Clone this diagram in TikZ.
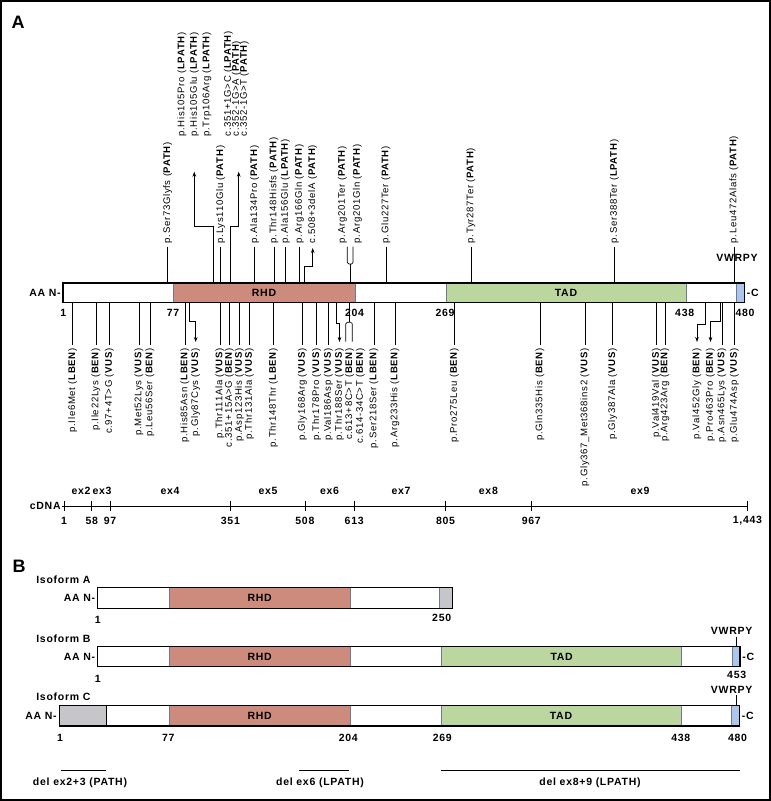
\documentclass[tikz,border=0pt]{standalone}
\usepackage{fontspec}
\setmainfont{Liberation Sans}
\newfontfamily\labfont[LetterSpace=7]{Liberation Sans}
\usetikzlibrary{arrows.meta}
\definecolor{rhdcol}{RGB}{205,139,126}
\definecolor{tadcol}{RGB}{188,214,160}
\definecolor{vwcol}{RGB}{172,198,236}
\definecolor{isogray}{RGB}{198,198,202}
\definecolor{edgecol}{RGB}{112,120,140}
\newcommand\vPath{(\textbf{PATH})}
\newcommand\vLPath{(\textbf{LPATH})}
\newcommand\vVus{(\textbf{VUS})}
\newcommand\vBen{(\textbf{BEN})}
\newcommand\vLBen{(\textbf{LBEN})}
\tikzset{
  lab/.style={font=\labfont\fontsize{9.6}{10}\selectfont,inner sep=0pt,inner xsep=3pt},
  uplab/.style={lab,rotate=90,anchor=west},
  downlab/.style={lab,rotate=90,anchor=east},
  num/.style={font=\labfont\bfseries\fontsize{10.5}{12}\selectfont,inner sep=1pt},
  panel/.style={font=\bfseries\fontsize{18}{20}\selectfont,inner sep=0pt},
  seg/.style={draw=edgecol,line width=0.6pt},
}
\begin{document}
\begin{tikzpicture}[>={Stealth[length=5pt,width=3.6pt]},x=1pt,y=-1pt,line width=0.7pt]
\useasboundingbox (0,0) rectangle (771,801);
\draw[line width=2pt] (1,1) rectangle (770,800);
\coordinate (atop) at (0,283);
\coordinate (abot) at (0,302.5);
%%%% panel A
\node[panel] (pA) at (18,22) {A};
\draw[seg,fill=rhdcol] (173,283) rectangle (355,302.5);
\draw[seg,fill=tadcol] (446,283) rectangle (686,302.5);
\draw[seg,fill=vwcol] (736,283) rectangle (744.5,302.5);
\draw[line width=1.1pt] (63,283) rectangle (744.5,302.5);
\node[num] (rhdA) at (264,292.7) {RHD};
\node[num] (tadA) at (566,292.7) {TAD};
\node[num,anchor=east] (nA) at (62,292.7) {AA N-};
\node[num,anchor=west] (cA) at (745.5,292.7) {-C};
\node[num] (vwA) at (737,258) {VWRPY};
\foreach \x/\n [count=\i] in {63.3/1,173/77,354.5/204,445/269,684.7/438,745/480}
  \node[num] (aa\i) at (\x,313) {\n};
% variants above the bar
\foreach \x/\txt [count=\i] in {167.7/{p.Ser73Glyfs \vPath},220.7/{p.Lys110Glu \vPath},
    254.7/{p.Ala134Pro \vPath},274/{p.Thr148Hisfs \vPath},285.3/{p.Ala156Glu \vLPath},
    299.3/{p.Arg166Gln \vPath},386/{p.Glu227Ter \vPath},471/{p.Tyr287Ter \vPath},
    614.3/{p.Ser388Ter \vLPath},734/{p.Leu472Alafs \vPath}}{
  \node[uplab] (u\i) at (\x,246.5) {\txt};
  \draw (u\i.west) -- (u\i.west |- atop);
}
\node[uplab] (h1) at (182,139.7) {p.His105Pro \vLPath};
\node[uplab] (h2) at (194.5,139.7) {p.His105Glu \vLPath};
\node[uplab] (h3) at (207,139.7) {p.Trp106Arg \vLPath};
\coordinate (harr) at (194.3,171.7);
\draw[->] (213.3,283) |- (194.3,226.7) -- (harr);
\node[uplab] (s1) at (228.5,139.7) {c.351+1G>C \vLPath};
\node[uplab] (s2) at (236.5,139.7) {c.352-1G>A \vPath};
\node[uplab] (s3) at (244.5,139.7) {c.352-1G>T \vPath};
\coordinate (sarr) at (238.7,171.7);
\draw[->] (230.7,283) |- (238.7,226.7) -- (sarr);
\node[uplab] (c508) at (312.7,246.5) {c.508+3delA \vPath};
\draw[->,shorten >=1.5pt] (304,283) |- (312.7,266) -- (c508.west);
\node[uplab] (r1) at (342.5,246.5) {p.Arg201Ter \vPath};
\node[uplab] (r2) at (357.5,246.5) {p.Arg201Gln \vPath};
\draw (350,283) -- (350,264);
\draw[rounded corners=1.5pt] (347.3,246.7) |- (353,264) -- (353,246.7);
% variants below the bar
\foreach \x/\txt [count=\i] in {72.7/{p.Ile6Met \vLBen},96/{p.Ile22Lys \vBen},
    109.3/{c.97+4T>G \vVus},139/{p.Met52Lys \vVus},150/{p.Leu56Ser \vBen},
    185/{p.His85Asn \vLBen},220/{p.Thr111Ala \vVus},229.3/{c.351+15A>G \vBen},
    239.3/{p.Asp123His \vVus},249.3/{p.Thr131Ala \vVus},273.3/{p.Thr148Thr \vLBen},
    302.3/{p.Gly168Arg \vVus},316.7/{p.Thr178Pro \vVus},328.3/{p.Val186Asp \vVus},
    374/{p.Ser218Ser \vLBen},395/{p.Arg233His \vLBen},454.3/{p.Pro275Leu \vBen},
    540/{p.Gln335His \vBen},585/{p.Gly367\_Met368ins2 \vVus},612.7/{p.Gly387Ala \vVus},
    656.5/{p.Val419Val \vVus},665/{p.Arg423Arg \vBen},722/{p.Asn465Lys \vVus},
    734.5/{p.Glu474Asp \vVus}}{
  \node[downlab] (d\i) at (\x,345) {\txt};
  \draw (d\i.east) -- (d\i.east |- abot);
}
\node[downlab] (g87) at (195.7,345) {p.Gly87Cys \vVus};
\draw[->,shorten >=3pt] (189,302.5) |- (195.7,321.7) -- (g87.east);
\node[downlab] (t188) at (339.5,345) {p.Thr188Ser \vVus};
\draw[->,shorten >=3pt] (336,302.5) |- (339.5,323.3) -- (t188.east);
\node[downlab] (c613) at (349.7,345) {c.613+8C>T \vBen};
\node[downlab] (c614) at (360.5,345) {c.614-34C>T \vBen};
\draw (349,302.5) -- (349,322.3);
\draw[rounded corners=1.5pt] (345.7,341.7) |- (352.3,322.3) -- (352.3,341.7);
\node[downlab] (v452) at (697,345) {p.Val452Gly \vBen};
\draw[->,shorten >=3pt] (705.7,302.5) |- (697,324) -- (v452.east);
\node[downlab] (p463) at (710.5,345) {p.Pro463Pro \vBen};
\draw[->,shorten >=3pt] (720,302.5) |- (710.5,321.7) -- (p463.east);
% cDNA scale
\node[num,anchor=east] (cdna) at (62,506) {cDNA};
\draw (cdna.east) -- (747.4,506);
\foreach \x/\n [count=\i] in {64/1,91.8/58,110/97,230.4/351,304.9/508,354.2/613,
    445.5/805,531.3/967,747.4/{1,443}}{
  \draw (\x,501) -- (\x,511);
  \node[num] (cn\i) at (\x,521) {\n};
}
\foreach \x/\e in {81/2,102/3,170/4,268/5,329.6/6,401/7,488.4/8,640/9}
  \node[num] (ex\e) at (\x,491) {ex\e};
%%%% panel B
\node[panel] (pB) at (19,566) {B};
% isoform A
\node[num,anchor=west] (isoA) at (35,580) {Isoform A};
\draw[seg,fill=rhdcol] (169.3,587.3) rectangle (350,608.3);
\draw[seg,fill=isogray] (439.3,587.3) rectangle (452.7,608.3);
\draw[line width=1.1pt] (97.7,587.3) rectangle (452.7,608.3);
\node[num] (rhdB1) at (259.7,597.8) {RHD};
\node[num,anchor=east] (nB1) at (96.5,597.8) {AA N-};
\node[num] (b1a) at (97.7,620) {1};
\node[num] (b1b) at (441.7,618.3) {250};
% isoform B
\node[num,anchor=west] (isoB) at (35,638.3) {Isoform B};
\draw[seg,fill=rhdcol] (169.3,646.7) rectangle (350,666.7);
\draw[seg,fill=tadcol] (441.7,646.7) rectangle (681.7,666.7);
\draw[seg,fill=vwcol] (732.3,646.7) rectangle (740,666.7);
\draw[line width=1.1pt] (97.7,646.7) rectangle (740,666.7);
\node[num] (rhdB2) at (259.7,656.7) {RHD};
\node[num] (tadB2) at (561.7,656.7) {TAD};
\node[num,anchor=east] (nB2) at (96.5,656.7) {AA N-};
\node[num,anchor=west] (cB2) at (741,656.7) {-C};
\node[num] (vwB2) at (731.7,631.2) {VWRPY};
\draw[line width=0.5pt] (736,636.5) -- (736,646.7);
\node[num] (b2a) at (97.7,679) {1};
\node[num] (b2b) at (736.7,675) {453};
% isoform C
\node[num,anchor=west] (isoC) at (35,696.7) {Isoform C};
\draw[seg,fill=isogray] (59.3,705.7) rectangle (106,726);
\draw (106,705.7) -- (106,726);
\draw[seg,fill=rhdcol] (169.3,705.7) rectangle (350,726);
\draw[seg,fill=tadcol] (441,705.7) rectangle (681,726);
\draw[seg,fill=vwcol] (731.7,705.7) rectangle (739.5,726);
\draw[line width=1.1pt] (59.3,705.7) rectangle (739.5,726);
\node[num] (rhdB3) at (259.7,715.8) {RHD};
\node[num] (tadB3) at (561,715.8) {TAD};
\node[num,anchor=east] (nB3) at (58,715.8) {AA N-};
\node[num,anchor=west] (cB3) at (740.5,715.8) {-C};
\node[num] (vwB3) at (731.7,689.5) {VWRPY};
\draw[line width=0.5pt] (736,695) -- (736,705.7);
\foreach \x/\n [count=\i] in {60/1,168.3/77,348.3/204,442.3/269,680.8/438,737.5/480}
  \node[num] (bc\i) at (\x,738.3) {\n};
% deletions
\node[num] (del1) at (80,783) {del ex2+3 (PATH)};
\node[num] (del2) at (320,783) {del ex6 (LPATH)};
\node[num] (del3) at (590,783) {del ex8+9 (LPATH)};
\draw (61,770) -- (106,770);
\draw (299.3,770) -- (349.3,770);
\draw (441,770) -- (740,770);
\end{tikzpicture}
\end{document}
